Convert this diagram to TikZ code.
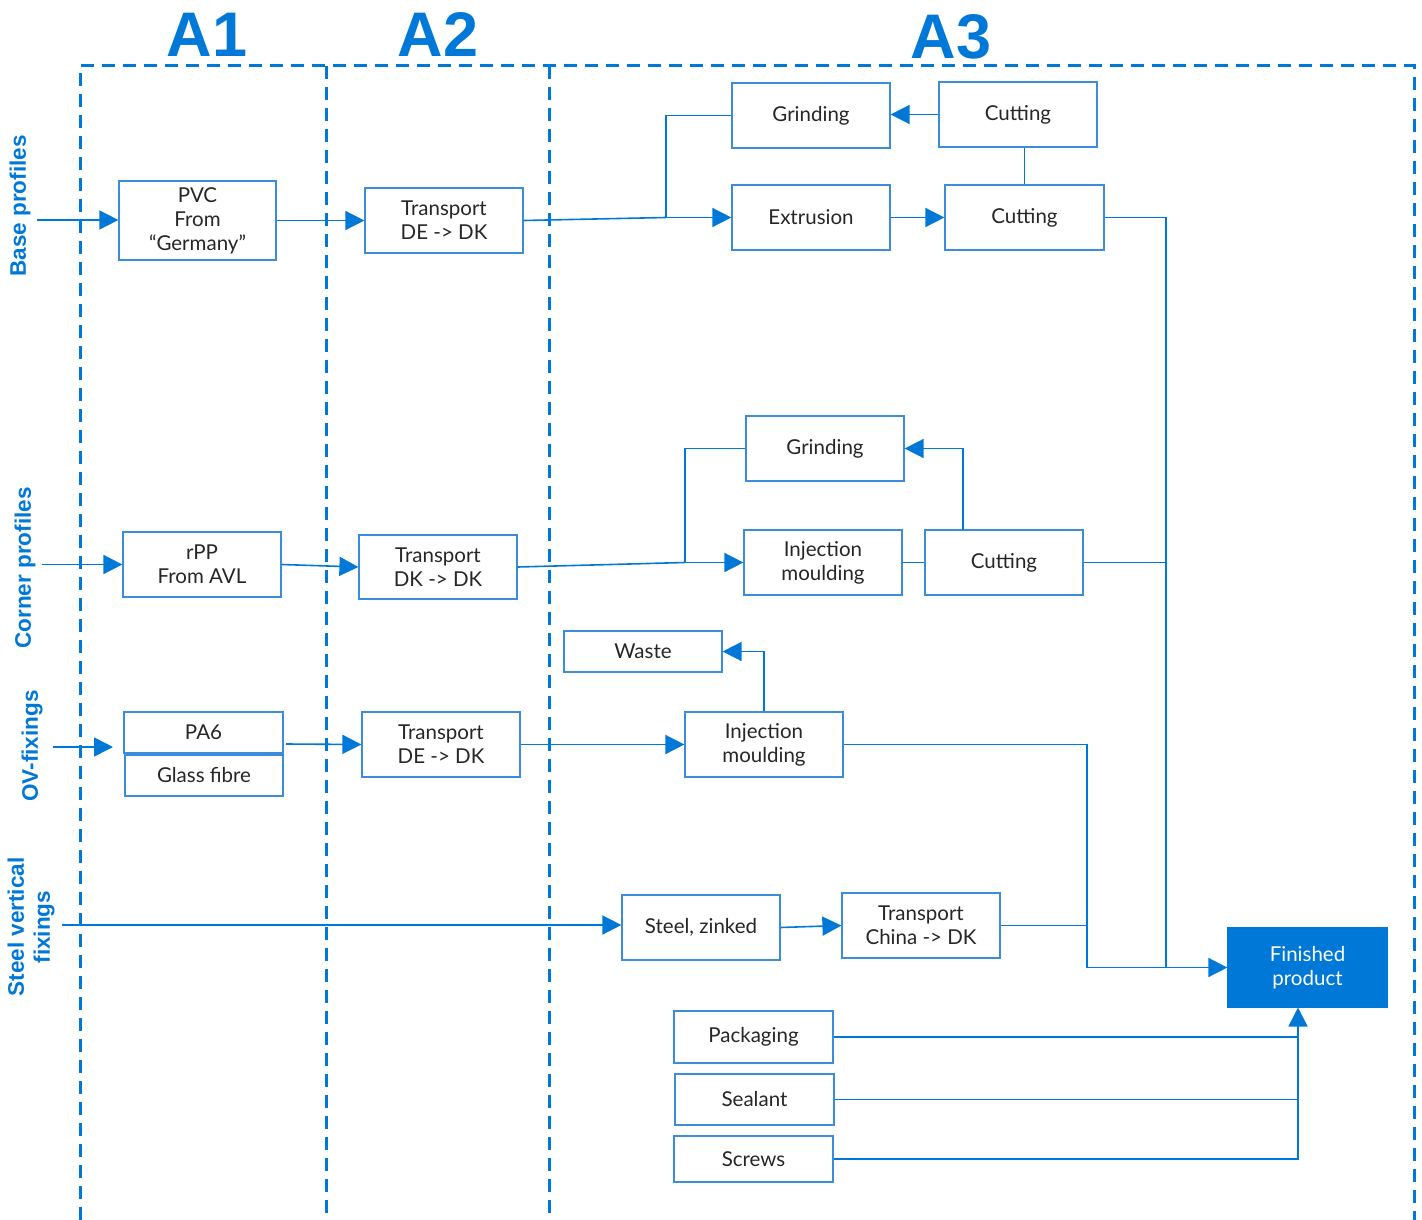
\documentclass[tikz,border=0pt]{standalone}
\usepackage{fontspec}
\setmainfont{Lato}
\newfontfamily\headfont{Liberation Sans}
\usetikzlibrary{arrows.meta}
\definecolor{mblue}{RGB}{0,120,215}
\definecolor{bblue}{RGB}{60,140,220}
\newcommand\mybox[7][]{\node[box,#1,minimum width={(#5-#3)*1pt},minimum height={(#6-#4)*1pt}] (#2) at ({(#3+#5)/2},{(#4+#6)/2}) {#7};}
\begin{document}
\begin{tikzpicture}[x=1pt,y=-1pt,
 box/.style={draw=bblue, line width=1.2pt, fill=white, inner sep=0pt, align=center, font=\fontsize{20.5}{24}\selectfont, text=black!85},
 conn/.style={draw=mblue, line width=1.6pt},
 arr/.style={conn, -{Triangle[length=19pt,width=19pt]}},
 frame/.style={draw=mblue, line width=3pt, dash pattern=on 13pt off 8pt},
 head/.style={font=\headfont\bfseries\fontsize{63}{63}\selectfont, text=mblue, anchor=base, inner sep=0pt},
 side/.style={font=\headfont\bfseries\fontsize{22.5}{26}\selectfont, text=mblue, rotate=90, align=center, inner sep=0pt}]
\useasboundingbox (0,0) rectangle (1422,1220);
% frame
\draw[frame] (80,1220) -- (80,66) -- (1414,66) -- (1414,1220);
\draw[frame] (326,66) -- (326,1220);
\draw[frame] (549,66) -- (549,1220);
% headings
\node[head] (h1) at (207,57) {A1};
\node[head] (h2) at (438,57) {A2};
\node[head] (h3) at (951,59) {A3};
\node[side] (s1) at (20,206) {Base profiles};
\node[side] (s2) at (25,568) {Corner profiles};
\node[side] (s3) at (32,746) {OV-fixings};
\node[side] (s4) at (31,927) {Steel vertical\\fixings};
% boxes
\mybox{pvc}{119}{181}{276}{260}{PVC\\From\\“Germany”}
\mybox{tr1}{365}{188}{523}{253}{Transport\\DE -> DK}
\mybox{gr1}{732}{83}{890}{148}{Grinding}
\mybox{cu1}{939}{82}{1097}{147}{Cutting}
\mybox{ext}{732}{185}{890}{250}{Extrusion}
\mybox{cu2}{945}{185}{1104}{250}{Cutting}
\mybox{rpp}{123}{532}{281}{597}{rPP\\From AVL}
\mybox{tr2}{359}{535}{517}{599}{Transport\\DK -> DK}
\mybox{gr2}{746}{416}{904}{481}{Grinding}
\mybox{inj1}{744}{530}{902}{595}{Injection\\moulding}
\mybox{cu3}{925}{530}{1083}{595}{Cutting}
\mybox{waste}{564}{631}{722}{672}{Waste}
\mybox{pa6}{124}{712}{283}{753}{PA6}
\mybox{gf}{125}{755}{283}{796}{Glass fibre}
\mybox{tr3}{362}{712}{520}{777}{Transport\\DE -> DK}
\mybox{inj2}{685}{712}{843}{777}{Injection\\moulding}
\mybox{st}{622}{895}{780}{960}{Steel, zinked}
\mybox{tc}{842}{893}{1000}{958}{Transport\\China -> DK}
\mybox[fill=mblue,draw=mblue,text=white]{fin}{1228}{928}{1387}{1007}{Finished\\product}
\mybox{pack}{674}{1011}{833}{1063}{Packaging}
\mybox{seal}{675}{1074}{834}{1125}{Sealant}
\mybox{scr}{674}{1136}{833}{1182}{Screws}
% coordinates
\coordinate (in1) at (37,220);
\coordinate (j1) at (666,217.5);
\coordinate (v1) at (1166,967.5);
\coordinate (in2) at (42,564.5);
\coordinate (j2) at (685,562.5);
\coordinate (c3) at (963,530);
\coordinate (in3) at (53,747);
\coordinate (in3e) at (113,747);
\coordinate (g1) at (286,744);
\coordinate (v2) at (1087,967.5);
\coordinate (in4) at (62,925);
\coordinate (v3) at (1298,1007.5);
% connectors
\draw[arr] (in1) -- (in1 -| pvc.west);
\draw[arr] (pvc.east) -- (tr1.west);
\draw[conn] (tr1.east) -- (j1);
\draw[arr] (j1) -- (ext.west);
\draw[conn] (gr1.west) -| (j1);
\draw[arr] (cu1.west) -- (cu1.west -| gr1.east);
\draw[conn] (cu2.north) -- (cu2.north |- cu1.south);
\draw[arr] (ext.east) -- (cu2.west);
\draw[arr] (cu2.east) -| (v1) -- (fin.west);
\draw[arr] (in2) -- (rpp.west);
\draw[arr] (rpp.east) -- (tr2.west);
\draw[conn] (tr2.east) -- (j2);
\draw[arr] (j2) -- (inj1.west);
\draw[conn] (gr2.west) -| (j2);
\draw[arr] (c3) |- (gr2.east);
\draw[conn] (inj1.east) -- (cu3.west);
\draw[conn] (cu3.east) -- (cu3.east -| v1);
\draw[arr] (in3) -- (in3e);
\draw[arr] (g1) -- (tr3.west);
\draw[arr] (tr3.east) -- (inj2.west);
\draw[arr] (inj2.north) |- (waste.east);
\draw[conn] (inj2.east) -| (v2) -- (v1);
\draw[arr] (in4) -- (in4 -| st.west);
\draw[arr] (st.east) -- (tc.west);
\draw[conn] (tc.east) -- (tc.east -| v2);
\draw[conn] (pack.east) -- (pack.east -| v3);
\draw[conn] (seal.east) -- (seal.east -| v3);
\draw[arr] (scr.east) -| (v3);
\end{tikzpicture}
\end{document}
